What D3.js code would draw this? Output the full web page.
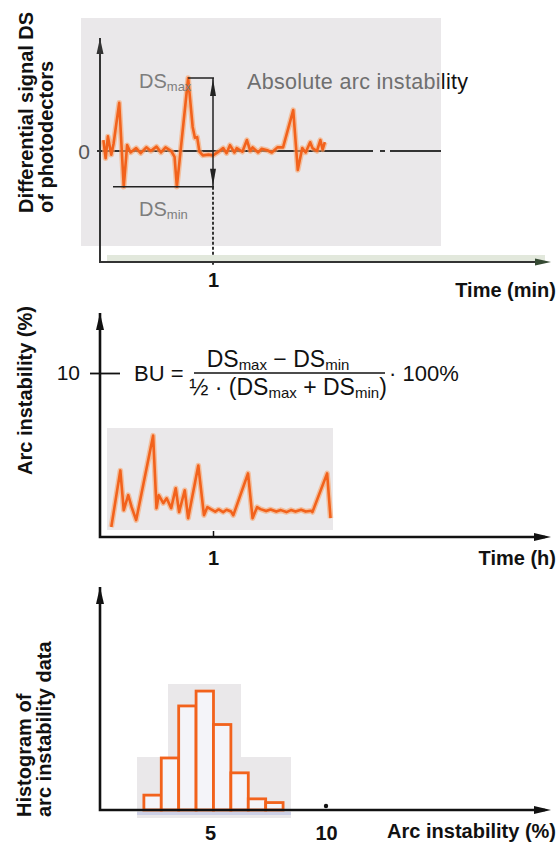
<!DOCTYPE html>
<html lang="en">
  <head>
    <meta charset="utf-8">
    <title>Arc instability</title>
    <style>
      body { margin: 0; background: #fff; }
      text { font-family: 'Liberation Sans', Arial, Helvetica, sans-serif; }
    </style>
  </head>
  <body>
    <svg class="chart"></svg>

    <script src="https://d3js.org/d3.v7.min.js"></script>

    <script type="text/javascript">
      // panel 1: differential signal DS over time (min), DSmax = 1
      var p1Time = [0.03,0.05,0.07,0.10,0.12,0.17,0.21,0.24,0.27,0.32,0.36,0.41,0.45,0.50,0.54,0.58,0.63,0.66,0.68,0.78,
                    0.82,0.84,0.86,0.88,0.91,0.96,1.00,1.04,1.09,1.12,1.15,1.19,1.21,1.26,1.30,1.33,1.35,1.40,1.43,1.48,
                    1.52,1.57,1.62,1.71,1.75,1.79,1.82,1.86,1.88,1.92,1.95,1.97,1.99];
      var p1Signal = [0.15,-0.10,0.20,-0.05,0.10,0.66,-0.49,0.08,-0.02,0.04,-0.03,0.05,0.00,0.06,-0.02,0.05,0.00,-0.08,-0.49,1.00,
                      0.33,0.18,0.19,-0.01,-0.06,-0.05,-0.06,-0.02,0.04,-0.03,0.08,-0.02,0.04,-0.01,0.15,0.00,0.05,-0.02,0.03,0.01,
                      -0.02,0.05,0.05,0.56,-0.26,0.04,-0.02,0.12,0.04,0.00,0.15,0.02,0.12];
      var dsMax = 1.00;
      var dsMin = -0.49;
      var p1Ticks = [1];

      // panel 2: arc instability (%) over time (h)
      var p2Time = [0.10,0.18,0.21,0.25,0.28,0.32,0.47,0.50,0.52,0.56,0.59,0.63,0.67,0.70,0.75,0.78,0.87,0.92,0.95,0.98,
                    1.02,1.05,1.09,1.12,1.16,1.18,1.31,1.35,1.39,1.42,1.47,1.51,1.56,1.60,1.65,1.69,1.73,1.78,1.82,1.87,
                    1.88,2.01,2.04];
      var p2Value = [0.61,4.06,1.64,2.55,1.82,1.03,6.18,1.76,2.55,2.06,2.36,1.76,2.97,1.52,2.85,1.15,4.36,1.33,1.82,1.70,
                     1.55,1.68,1.52,1.66,1.55,1.33,3.88,1.15,1.82,1.70,1.58,1.68,1.55,1.64,1.52,1.64,1.55,1.66,1.55,1.60,
                     1.52,3.88,1.15];
      var p2XTicks = [1];
      var p2YTicks = [10];

      // panel 3: histogram of arc instability
      var binStart = [2.15,2.90,3.65,4.40,5.15,5.90,6.65,7.40];
      var binWidth = 0.75;
      var binCount = [4,14,28,32,23,10,3,2];
      var p3Ticks = [5, 10];

      var orange = '#f2621c';
      var w = 558, h = 846;

      var svg = d3.select('.chart').attr('width', w).attr('height', h);
      svg.append('rect').attr('width', w).attr('height', h).attr('fill', '#fff');

      function arrowUp(x, y, len, half, col) {
        svg.append('path')
           .attr('d', 'M' + x + ',' + y + 'L' + (x - half) + ',' + (y + len) + 'L' + (x + half) + ',' + (y + len) + 'Z')
           .attr('fill', col);
      }
      function arrowDown(x, y, len, half, col) {
        svg.append('path')
           .attr('d', 'M' + x + ',' + y + 'L' + (x - half) + ',' + (y - len) + 'L' + (x + half) + ',' + (y - len) + 'Z')
           .attr('fill', col);
      }
      function arrowRight(x, y, len, half, col) {
        svg.append('path')
           .attr('d', 'M' + x + ',' + y + 'L' + (x - len) + ',' + (y - half) + 'L' + (x - len) + ',' + (y + half) + 'Z')
           .attr('fill', col);
      }
      function yTitle(lines, x0, yStart) {
        lines.forEach(function(t, i) {
          svg.append('text')
             .attr('transform', 'translate(' + (x0 + i * 20) + ',' + yStart + ') rotate(-90)')
             .attr('font-size', 20).attr('font-weight', 'bold').attr('fill', '#111')
             .text(t);
        });
      }
      function orangeLine(pts) {
        svg.append('path').attr('d', pts).attr('fill', 'none')
           .attr('stroke', '#f8a36a').attr('stroke-width', 5.5).attr('opacity', 0.6)
           .attr('stroke-linejoin', 'round');
        svg.append('path').attr('d', pts).attr('fill', 'none')
           .attr('stroke', orange).attr('stroke-width', 2.6)
           .attr('stroke-linejoin', 'round');
      }

      // ---------- panel 1 ----------
      var x1 = d3.scaleLinear().domain([0, 1]).range([100, 213]);
      var y1 = d3.scaleLinear().domain([0, 1]).range([151, 78]);

      svg.append('rect').attr('x', 81).attr('y', 18).attr('width', 360).attr('height', 228).attr('fill', '#eae8ea');

      // zero line with a break
      [[97, 373], [380, 385], [390, 441]].forEach(function(s) {
        svg.append('line').attr('x1', s[0]).attr('x2', s[1]).attr('y1', y1(0)).attr('y2', y1(0))
           .attr('stroke', '#333').attr('stroke-width', 2);
      });
      svg.append('text').attr('x', 90).attr('y', y1(0) + 8).attr('text-anchor', 'end')
         .attr('font-size', 21).attr('fill', '#555').text('0');

      var line1 = d3.line().x(function(d) { return x1(d[0]); }).y(function(d) { return y1(d[1]); });
      orangeLine(line1(d3.zip(p1Time, p1Signal)));

      // DSmax / DSmin markers
      var peakT = p1Time[p1Signal.indexOf(dsMax)];
      svg.append('line').attr('x1', x1(peakT)).attr('x2', x1(1) + 1).attr('y1', y1(dsMax)).attr('y2', y1(dsMax))
         .attr('stroke', '#222').attr('stroke-width', 1.5);
      svg.append('line').attr('x1', 113).attr('x2', x1(1) + 1).attr('y1', y1(dsMin)).attr('y2', y1(dsMin))
         .attr('stroke', '#222').attr('stroke-width', 1.5);
      svg.append('line').attr('x1', x1(1)).attr('x2', x1(1)).attr('y1', y1(dsMax)).attr('y2', y1(dsMin))
         .attr('stroke', '#222').attr('stroke-width', 1.5);
      arrowUp(x1(1), y1(dsMax) + 1, 17, 3, '#222');
      arrowDown(x1(1), y1(dsMin) - 1, 17, 3, '#222');
      svg.append('line').attr('x1', x1(1)).attr('x2', x1(1)).attr('y1', y1(dsMin)).attr('y2', 266)
         .attr('stroke', '#222').attr('stroke-width', 1.8).attr('stroke-dasharray', '3,2');

      var dsMaxLabel = svg.append('text').attr('x', 139).attr('y', 88).attr('font-size', 20).attr('fill', '#7d7d7d');
      dsMaxLabel.append('tspan').text('DS');
      dsMaxLabel.append('tspan').attr('font-size', 13).attr('dy', 3).text('max');
      var dsMinLabel = svg.append('text').attr('x', 139).attr('y', 216).attr('font-size', 20).attr('fill', '#7d7d7d');
      dsMinLabel.append('tspan').text('DS');
      dsMinLabel.append('tspan').attr('font-size', 13).attr('dy', 3).text('min');

      // caption, grey on the panel, black beyond it
      var defs = svg.append('defs');
      defs.append('clipPath').attr('id', 'inBox').append('rect').attr('x', 0).attr('y', 0).attr('width', 441).attr('height', 300);
      defs.append('clipPath').attr('id', 'outBox').append('rect').attr('x', 441).attr('y', 0).attr('width', 200).attr('height', 300);
      [['inBox', '#6f6f6f'], ['outBox', '#111']].forEach(function(c) {
        svg.append('text').attr('x', 247).attr('y', 89).attr('font-size', 21.5)
           .attr('textLength', 221).attr('lengthAdjust', 'spacing')
           .attr('fill', c[1]).attr('clip-path', 'url(#' + c[0] + ')')
           .text('Absolute arc instability');
      });

      // axes
      svg.append('rect').attr('x', 107).attr('y', 255).attr('width', 438).attr('height', 7).attr('fill', '#e2e8dc');
      svg.append('path').attr('d', 'M100,' + 38 + 'V262H545').attr('fill', 'none')
         .attr('stroke', '#333').attr('stroke-width', 2);
      arrowUp(100, 38, 16, 3.5, '#333');
      arrowRight(551, 262, 16, 3.5, '#354a33');

      var ax1 = svg.append('g').attr('transform', 'translate(0,262)')
         .call(d3.axisBottom(x1).tickValues(p1Ticks).tickSize(0).tickPadding(11).tickFormat(d3.format('d')));
      ax1.select('.domain').remove();
      ax1.selectAll('text').attr('font-size', 20).attr('font-weight', 'bold').attr('fill', '#111')
         .attr('font-family', null);
      svg.append('text').attr('x', 556).attr('y', 297).attr('text-anchor', 'end')
         .attr('font-size', 20).attr('font-weight', 'bold').attr('fill', '#111').text('Time (min)');
      yTitle(['Differential signal DS', 'of photodectors'], 33, 213);

      // ---------- panel 2 ----------
      var x2 = d3.scaleLinear().domain([0, 1]).range([100, 213]);
      var y2 = d3.scaleLinear().domain([0, 10]).range([537, 373]);

      svg.append('rect').attr('x', 107).attr('y', 428).attr('width', 226).attr('height', 102).attr('fill', '#eae8ea');
      var line2 = d3.line().x(function(d) { return x2(d[0]); }).y(function(d) { return y2(d[1]); });
      orangeLine(line2(d3.zip(p2Time, p2Value)));

      svg.append('path').attr('d', 'M100,313V537H545').attr('fill', 'none')
         .attr('stroke', '#111').attr('stroke-width', 2.6);
      arrowUp(100, 313, 17, 4, '#111');
      arrowRight(551, 537, 17, 4, '#111');

      var ax2x = svg.append('g').attr('transform', 'translate(0,537)')
         .call(d3.axisBottom(x2).tickValues(p2XTicks).tickSizeInner(-6).tickSizeOuter(0).tickPadding(14).tickFormat(d3.format('d')));
      ax2x.select('.domain').remove();
      ax2x.selectAll('line').attr('stroke', '#111').attr('stroke-width', 1.5);
      ax2x.selectAll('text').attr('font-size', 20).attr('font-weight', 'bold').attr('fill', '#111')
          .attr('font-family', null);

      var ax2y = svg.append('g').attr('transform', 'translate(100,0)')
         .call(d3.axisLeft(y2).tickValues(p2YTicks).tickSize(10).tickPadding(10));
      ax2y.select('.domain').remove();
      ax2y.selectAll('line').attr('x1', 20).attr('stroke', '#111').attr('stroke-width', 1.8);
      ax2y.selectAll('text').attr('font-size', 21).attr('fill', '#111').attr('font-family', null);

      svg.append('text').attr('x', 556).attr('y', 565).attr('text-anchor', 'end')
         .attr('font-size', 20).attr('font-weight', 'bold').attr('fill', '#111').text('Time (h)');
      yTitle(['Arc instability (%)'], 32, 475);

      // formula
      var fy = y2(10);
      svg.append('text').attr('x', 134).attr('y', fy + 8).attr('font-size', 22).attr('fill', '#111').text('BU =');
      svg.append('line').attr('x1', 194).attr('x2', 385).attr('y1', fy).attr('y2', fy)
         .attr('stroke', '#111').attr('stroke-width', 1.6);
      var num = svg.append('text').attr('x', 278).attr('y', fy - 6).attr('text-anchor', 'middle')
         .attr('font-size', 23).attr('fill', '#111');
      num.append('tspan').text('DS');
      num.append('tspan').attr('font-size', 15).attr('dy', 3).text('max');
      num.append('tspan').attr('dy', -3).text(' \u2212 DS');
      num.append('tspan').attr('font-size', 15).attr('dy', 3).text('min');
      var den = svg.append('text').attr('x', 288).attr('y', fy + 22).attr('text-anchor', 'middle')
         .attr('font-size', 23).attr('fill', '#111');
      den.append('tspan').text('\u00bd \u00b7 (DS');
      den.append('tspan').attr('font-size', 15).attr('dy', 3).text('max');
      den.append('tspan').attr('dy', -3).text(' + DS');
      den.append('tspan').attr('font-size', 15).attr('dy', 3).text('min');
      den.append('tspan').attr('dy', -3).text(')');
      svg.append('text').attr('x', 389).attr('y', fy + 8).attr('font-size', 22).attr('fill', '#111').text('\u00b7 100%');

      // ---------- panel 3 ----------
      var x3 = d3.scaleLinear().domain([5, 10]).range([210, 326]);
      var y3 = d3.scaleLinear().domain([0, 60]).range([810, 587]);

      svg.append('rect').attr('x', 137).attr('y', 757).attr('width', 154).attr('height', 61).attr('fill', '#eae8ea');
      svg.append('rect').attr('x', 168).attr('y', 684).attr('width', 73).attr('height', 73).attr('fill', '#eae8ea');
      svg.append('rect').attr('x', 137).attr('y', 812).attr('width', 154).attr('height', 3).attr('fill', '#cdd0e6');

      svg.selectAll('rect.bin')
         .data(d3.zip(binStart, binCount))
         .enter()
         .append('rect')
         .attr('class', 'bin')
         .attr('x', function(d) { return x3(d[0]); })
         .attr('y', function(d) { return y3(d[1]); })
         .attr('width', function(d) { return x3(d[0] + binWidth) - x3(d[0]); })
         .attr('height', function(d) { return y3(0) - y3(d[1]); })
         .attr('fill', '#f4f4f9')
         .attr('stroke', orange)
         .attr('stroke-width', 2.8);

      svg.append('path').attr('d', 'M100,587V810H545').attr('fill', 'none')
         .attr('stroke', '#111').attr('stroke-width', 2.6);
      arrowUp(100, 587, 17, 4, '#111');
      arrowRight(551, 810, 17, 4, '#111');

      var ax3 = svg.append('g').attr('transform', 'translate(0,810)')
         .call(d3.axisBottom(x3).tickValues(p3Ticks).tickSize(0).tickPadding(16).tickFormat(d3.format('d')));
      ax3.select('.domain').remove();
      ax3.selectAll('text').attr('font-size', 20).attr('font-weight', 'bold').attr('fill', '#111')
         .attr('font-family', null);
      svg.append('circle').attr('cx', x3(10)).attr('cy', 806).attr('r', 2.2).attr('fill', '#111');

      svg.append('text').attr('x', 556).attr('y', 838).attr('text-anchor', 'end')
         .attr('font-size', 20).attr('font-weight', 'bold').attr('fill', '#111').text('Arc instability (%)');
      yTitle(['Histogram of', 'arc instability data'], 31, 817);
    </script>
  </body>
</html>
